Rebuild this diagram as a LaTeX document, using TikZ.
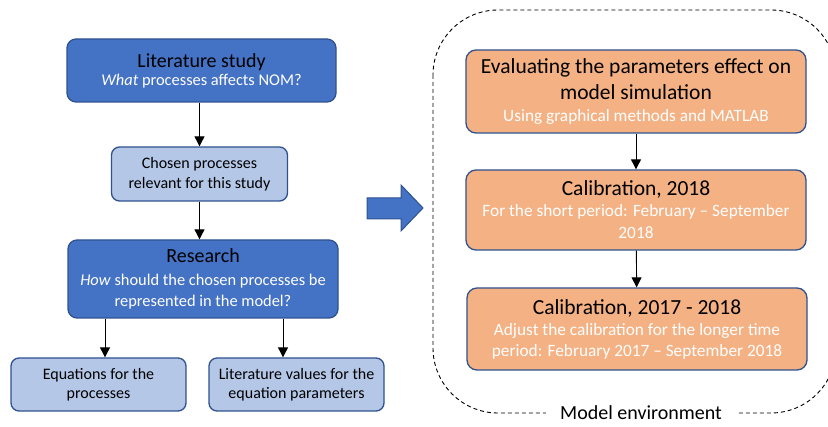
\documentclass[tikz,border=0pt]{standalone}
\usepackage{fontspec}
\setmainfont{Carlito}
\usetikzlibrary{arrows.meta,positioning}
\definecolor{deepblue}{HTML}{4472C4}
\definecolor{edgeblue}{HTML}{2F528F}
\definecolor{paleblue}{HTML}{B4C7E7}
\definecolor{peach}{HTML}{F4B183}
\newcommand{\headfont}{\fontsize{20}{24}\selectfont}
\newcommand{\calhead}{\fontsize{21.5}{26}\selectfont}
\tikzset{
  mainbox/.style={draw=edgeblue,fill=deepblue,rounded corners=9pt,line width=1.3pt,
                  align=center,font=\fontsize{16.4}{21}\selectfont,inner sep=0pt},
  subbox/.style={draw=edgeblue,fill=paleblue,rounded corners=8pt,line width=1.3pt,
                 align=center,font=\fontsize{16}{19.5}\selectfont,inner sep=0pt},
  calbox/.style={draw=edgeblue,fill=peach,rounded corners=10pt,line width=1.3pt,
                 align=center,font=\fontsize{17.3}{21}\selectfont,inner sep=0pt,
                 minimum width=340pt},
  flow/.style={-{Triangle[length=10pt,width=10pt]},line width=0.9pt,color=black},
  envline/.style={dash pattern=on 4pt off 3pt,line width=0.9pt,rounded corners=65pt},
  bigarrow/.style={fill=deepblue,draw=edgeblue,line width=1pt},
}
\begin{document}
\begin{tikzpicture}[x=1pt,y=-1pt]
  \useasboundingbox (0,0) rectangle (828,427);
  % left column
  \node[mainbox,minimum width=269pt,minimum height=63pt] (lit) at (201.5,70.5)
    {{\headfont Literature study}\\[-3pt]{\color{white}\textit{What} processes affects NOM?}};
  \node[subbox,minimum width=176pt,minimum height=54pt] (chosen) at (199.5,174)
    {Chosen processes\\relevant for this study};
  \node[mainbox,minimum width=270pt,minimum height=78pt] (res) at (203,279)
    {{\headfont Research}\\[2pt]{\color{white}\textit{How} should the chosen processes be}\\{\color{white}represented in the model?}};
  \node[subbox,minimum width=175pt,minimum height=53pt] (eqs) at (98.5,384.5)
    {Equations for the\\processes};
  \node[subbox,minimum width=175pt,minimum height=53pt] (vals) at (296.5,384.5)
    {Literature values for the\\equation parameters};
  \draw[flow] (lit.south -| chosen.north) -- (chosen.north);
  \draw[flow] (chosen.south) -- (res.north -| chosen.south);
  \draw[flow] ([xshift=6.5pt]eqs.north |- res.south) -- ([xshift=6.5pt]eqs.north);
  \draw[flow] ([xshift=-13.5pt]vals.north |- res.south) -- ([xshift=-13.5pt]vals.north);
  % big arrow
  \draw[bigarrow] (367,198) -- (401,198) -- (401,185) -- (423,208) -- (401,231)
    -- (401,219) -- (367,219) -- cycle;
  % model environment
  \node[calbox,minimum height=83pt] (eval) at (636,91.5)
    {{\calhead Evaluating the parameters effect on}\\[5pt]{\calhead model simulation}\\[1pt]{\color{white}Using graphical methods and MATLAB}};
  \node[calbox,minimum height=80pt] (cal1) at (636,210)
    {{\calhead Calibration, 2018}\\{\color{white}For the short period: February -- September}\\[1pt]{\color{white}2018}};
  \node[calbox,minimum height=82pt] (cal2) at (637,329)
    {{\calhead Calibration, 2017 - 2018}\\{\color{white}Adjust the calibration for the longer time}\\{\color{white}period: February 2017 -- September 2018}};
  \draw[flow] (eval) -- (cal1);
  \draw[flow] (cal1) -- (cal2);
  \draw[envline] (433,10) rectangle (836,413);
  \node[fill=white,inner xsep=14pt,inner ysep=2pt,font=\headfont] (env) at (641,413) {Model environment};
\end{tikzpicture}
\end{document}
